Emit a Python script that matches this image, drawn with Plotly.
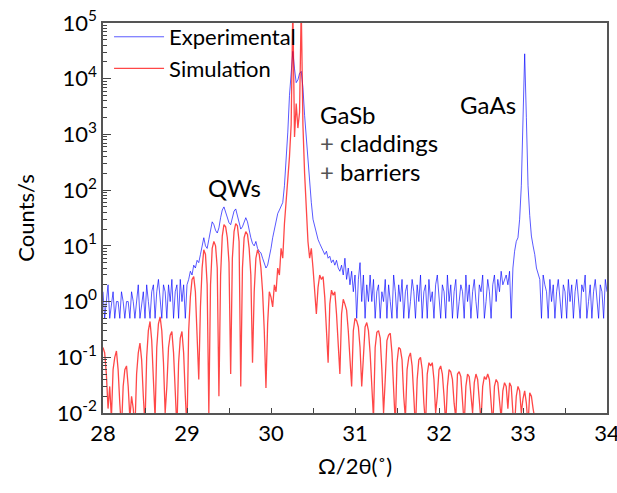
import numpy as np
import plotly.graph_objects as go

# ---- Data (x grid step 0.02 deg) ----
x_start = 28.0
x_step = 0.02

experimental = [
    1.5, 0.5, 1, 2, 0.5, 1, 1.5, 0.5, 1, 1,
    0.5, 1.5, 1, 0.5, 1, 1, 0.5, 1.5, 1, 0.5,
    1, 2, 0.5, 1, 1.5, 0.5, 2, 1, 0.5, 1.5,
    2, 0.5, 1.5, 2.5, 1, 0.5, 2, 1.5, 0.5, 2,
    1, 2.5, 0.5, 1.5, 2, 0.5, 2.5, 1, 2, 0.5,
    2, 2.5, 3.5, 3, 4.5, 4, 5.5, 5, 7, 10,
    14, 10, 9, 13, 20, 27, 24, 19, 17, 21,
    32, 44, 50, 40, 30, 26, 24, 33, 42, 46,
    36, 26, 20, 22, 28, 32, 27, 18, 14, 11,
    10, 12, 9, 8, 7.5, 6, 5, 4, 4.5, 6,
    9, 14, 20, 28, 38, 44, 50, 60, 120, 350,
    1100, 5000, 16000, 31000, 15000, 8500, 9500, 12500, 13500, 7000,
    2200, 800, 350, 140, 60, 30, 22, 17, 13, 11,
    9.5, 8.5, 7, 8, 6, 6.5, 5, 5.6, 4.5, 5.5,
    4, 3.5, 4.5, 3, 6, 2.5, 4, 2, 3.5, 1.5,
    3, 0.5, 2.5, 5, 1, 3, 0.5, 2, 1, 3,
    1, 2.5, 0.5, 1.5, 2, 0.5, 1.5, 1, 2.5, 0.5,
    2, 1, 0.5, 3, 1.5, 0.5, 2, 1, 2.5, 0.5,
    1.5, 2, 0.5, 1, 2.5, 1.5, 0.5, 2, 1, 3,
    0.5, 1.5, 2, 0.5, 2.5, 1, 1.5, 0.5, 2, 3,
    1, 0.5, 2, 1.5, 0.5, 3, 1, 2, 0.5, 1.5,
    2.5, 0.5, 1, 2, 1.5, 0.5, 3, 1, 2, 0.5,
    1.5, 2.5, 1, 0.5, 2, 1.5, 3, 0.5, 1, 2.5,
    1.5, 0.5, 2, 3, 1, 2.5, 1.5, 3.5, 2, 2.5,
    3, 2, 3.5, 0.5, 4, 8, 12, 14, 30, 120,
    2500, 28000, 2000, 120, 35, 15, 10, 7, 4, 3,
    2.5, 0.5, 3, 2, 1.5, 0.5, 2.5, 1, 2, 0.5,
    1.5, 2.5, 1, 0.5, 2, 1.5, 0.5, 2.5, 1, 2,
    0.5, 1.5, 2.5, 1, 0.5, 2, 1.5, 3, 0.5, 1,
    2, 0.5, 1.5, 2.5, 1, 0.5, 2, 1.5, 0.5, 2.5,
    1.5,
]

simulation = [
    0.15, 0.12, 0.05, 0.012, 0.03, 0.008, 0.06, 0.1, 0.13, 0.06,
    0.015, 0.005, 0.03, 0.06, 0.07, 0.03, 0.008, 0.02, 0.012, 0.005,
    0.05, 0.12, 0.18, 0.09, 0.02, 0.006, 0.1, 0.3, 0.44, 0.2,
    0.04, 0.008, 0.15, 0.4, 0.53, 0.3, 0.08, 0.01, 0.03, 0.15,
    0.25, 0.29, 0.12, 0.015, 0.005, 0.08, 0.22, 0.29, 0.12, 0.02,
    0.005, 0.3, 1.2, 2.5, 2.8, 1.5, 0.3, 0.04, 0.8, 4,
    8.5, 7, 2, 0.01, 2, 9, 12, 10, 4, 0.02,
    3, 15, 24, 22, 14, 5, 0.05, 6, 18, 25,
    23, 12, 0.03, 4, 14, 18, 16, 9, 3, 0.08,
    1.5, 6, 8.5, 7, 4, 1.5, 0.3, 0.028, 0.4, 1.5,
    1.2, 0.8, 2, 1.5, 4, 3, 9, 6, 25, 60,
    120, 400, 1500, 200000, 900, 3600, 1300, 2500, 200000, 1500,
    200, 40, 12, 6, 9, 4, 1.5, 0.6, 1.8, 3,
    2.5, 2.8, 1.2, 0.3, 0.08, 0.9, 1.6, 1.3, 1.5, 0.6,
    0.15, 0.05, 0.6, 1.1, 0.9, 0.7, 0.3, 0.08, 0.03, 0.3,
    0.5, 0.45, 0.35, 0.15, 0.03, 0.1, 0.35, 0.42, 0.3, 0.12,
    0.02, 0.008, 0.15, 0.28, 0.3, 0.22, 0.06, 0.01, 0.04, 0.2,
    0.25, 0.27, 0.12, 0.03, 0.006, 0.08, 0.15, 0.14, 0.09, 0.02,
    0.008, 0.06, 0.1, 0.12, 0.07, 0.02, 0.005, 0.04, 0.09, 0.1,
    0.06, 0.015, 0.006, 0.05, 0.08, 0.07, 0.08, 0.04, 0.01, 0.02,
    0.06, 0.07, 0.05, 0.02, 0.006, 0.03, 0.06, 0.055, 0.04, 0.015,
    0.008, 0.05, 0.055, 0.045, 0.02, 0.006, 0.03, 0.05, 0.045, 0.02,
    0.01, 0.035, 0.05, 0.04, 0.015, 0.007, 0.03, 0.045, 0.04, 0.05,
    0.04, 0.015, 0.006, 0.03, 0.04, 0.035, 0.015, 0.008, 0.025, 0.035,
    0.03, 0.012, 0.035, 0.03, 0.01, 0.006, 0.02, 0.03, 0.025, 0.01,
    0.018, 0.025, 0.015, 0.006, 0.023, 0.02, 0.012, 0.008,
]

y_tick_vals = [1e-2, 1e-1, 1e0, 1e1, 1e2, 1e3, 1e4, 1e5]
y_tick_text = ["10<sup>-2</sup>", "10<sup>-1</sup>", "10<sup>0</sup>", "10<sup>1</sup>",
               "10<sup>2</sup>", "10<sup>3</sup>", "10<sup>4</sup>", "10<sup>5</sup>"]
x_tick_vals = [28, 29, 30, 31, 32, 33, 34]

x_exp = np.round(x_start + x_step * np.arange(len(experimental)), 2)
x_sim = np.round(x_start + x_step * np.arange(len(simulation)), 2)

FONT = "Lato, Carlito, Calibri, sans-serif"
TXT = 24
PLUS = "<span style='color:#555'>+</span> "

fig = go.Figure()
fig.add_trace(go.Scatter(
    x=x_exp, y=experimental, mode="lines", name="Experimental",
    line=dict(color="rgba(0,0,255,0.65)", width=1),
))
fig.add_trace(go.Scatter(
    x=x_sim, y=simulation, mode="lines", name="Simulation",
    line=dict(color="rgba(255,0,0,0.72)", width=1.3),
))

labels = [
    (29.56, 2.04, "QWs", "center"),
    (30.56, 3.36, "GaSb", "left"),
    (30.56, 2.85, PLUS + "claddings", "left"),
    (30.56, 2.34, PLUS + "barriers", "left"),
    (32.58, 3.53, "GaAs", "center"),
]
for lx, ly, lt, anc in labels:
    fig.add_annotation(x=lx, y=ly, text=lt, showarrow=False,
                       xanchor=anc, yanchor="middle",
                       font=dict(size=TXT, color="black", family=FONT))

fig.update_layout(
    width=617, height=493,
    margin=dict(l=103, r=10, t=23, b=80),
    paper_bgcolor="white", plot_bgcolor="white",
    font=dict(family=FONT, size=22, color="black"),
    showlegend=True,
    legend=dict(x=0.012, y=1.018, xanchor="left", yanchor="top",
                bgcolor="rgba(0,0,0,0)", font=dict(size=22),
                itemwidth=50, tracegroupgap=0),
)
fig.update_xaxes(
    range=[28, 34], tickvals=x_tick_vals, ticks="inside", ticklen=5,
    tickcolor="#444", showline=True, linecolor="#555", linewidth=1.5,
    mirror=True, showgrid=False, zeroline=False, automargin=False,
    ticklabeloverflow="allow",
    minor=dict(ticks="inside", ticklen=5, dtick=0.5, tickcolor="#444", showgrid=False),
    title=dict(text="Ω/2θ(˚)", font=dict(size=22), standoff=13),
    tickfont=dict(size=22),
)
fig.update_yaxes(
    type="log", range=[-2, 5], tickvals=y_tick_vals, ticktext=y_tick_text,
    ticks="inside", ticklen=8, tickcolor="#444",
    showline=True, linecolor="#555", linewidth=1.5, mirror=True,
    showgrid=False, zeroline=False, automargin=False,
    ticklabeloverflow="allow",
    minor=dict(ticks="inside", ticklen=4, dtick="D1", tickcolor="#444", showgrid=False),
    title=dict(text="Counts/s", font=dict(size=22), standoff=16),
    tickfont=dict(size=22),
)

# Remove the browser's default 8px body margin so the figure fills the window.
fig.write_html("out.html", config={"displayModeBar": False},
               post_script="document.body.style.margin='0px';")
